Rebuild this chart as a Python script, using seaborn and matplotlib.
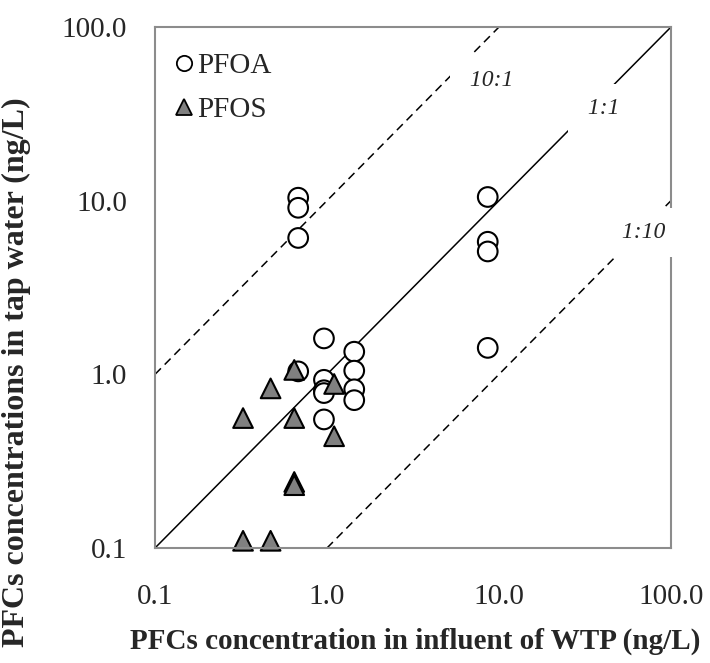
import numpy as np
import pandas as pd
import matplotlib
matplotlib.use("Agg")
import matplotlib.pyplot as plt
from matplotlib.ticker import FixedLocator, FixedFormatter, LogLocator, NullFormatter
from matplotlib.lines import Line2D
import seaborn as sns

# PFOA: influent (x) vs tap water (y), ng/L
pfoa_influent = [0.68, 0.68, 0.68, 8.6, 8.6, 8.6, 8.6, 0.96, 1.44, 1.44, 1.44, 1.44,
                 0.96, 0.96, 0.96, 0.68, 0.96]
pfoa_tap = [10.4, 9.1, 6.1, 10.5, 5.8, 5.1, 1.42, 1.61, 1.35, 1.05, 0.82, 0.71,
            0.93, 0.81, 0.78, 1.04, 0.55]

# PFOS: influent (x) vs tap water (y), ng/L
pfos_influent = [0.645, 0.47, 1.1, 0.645, 1.1, 0.645, 0.645, 0.325, 0.325, 0.47]
pfos_tap = [1.06, 0.83, 0.88, 0.56, 0.44, 0.24, 0.23, 0.56, 0.11, 0.11]

# Reference ratio lines (tap : influent)
ratios = [10.0, 1.0, 0.1]
ratio_labels = ["10:1", "1:1", "1:10"]

tick_values = [0.1, 1.0, 10.0, 100.0]
tick_labels = ["0.1", "1.0", "10.0", "100.0"]

df = pd.concat([
    pd.DataFrame({"influent": pfoa_influent, "tap": pfoa_tap, "compound": "PFOA"}),
    pd.DataFrame({"influent": pfos_influent, "tap": pfos_tap, "compound": "PFOS"}),
], ignore_index=True)

sns.set_style("white")
plt.rcParams["font.family"] = ["Liberation Serif", "DejaVu Serif"]

fig = plt.figure(figsize=(7.1, 6.63), dpi=100)
ax = fig.add_axes([155 / 710, 1 - 548 / 663, 516 / 710, 521 / 663])

lo, hi = tick_values[0], tick_values[-1]
ax.set_xscale("log")
ax.set_yscale("log")
ax.set_xlim(lo, hi)
ax.set_ylim(lo, hi)

# ratio lines clipped to the plotting range
for r in ratios:
    x0 = max(lo, lo / r)
    x1 = min(hi, hi / r)
    xs = np.array([x0, x1])
    if r == 1.0:
        ax.plot(xs, xs * r, color="black", lw=1.1, zorder=2)
    else:
        ax.plot(xs, xs * r, color="black", lw=1.1, dashes=(5.5, 3.5), zorder=2)

sns.scatterplot(
    data=df, x="influent", y="tap", hue="compound", style="compound",
    markers={"PFOA": "o", "PFOS": "^"},
    palette={"PFOA": "white", "PFOS": "#808080"},
    edgecolor="black", linewidth=1.5, s=200, ax=ax, legend=False, zorder=3,
    clip_on=False,
)

# ratio labels with white boxes covering the lines
label_pos = [(0.653, 0.898), (0.869, 0.844), (0.946, 0.605)]
for (px, py), txt in zip(label_pos, ratio_labels):
    ax.text(px, py, " " + txt + " ", transform=ax.transAxes, ha="center", va="center",
            fontsize=17, style="italic", zorder=5, clip_on=False,
            bbox=dict(boxstyle="square,pad=0.6", facecolor="white", edgecolor="none"))

# axes styling
spine_color = "#8c8c8c"
for sp in ax.spines.values():
    sp.set_color(spine_color)
    sp.set_linewidth(1.5)
    sp.set_zorder(4)

for axis in (ax.xaxis, ax.yaxis):
    axis.set_major_locator(FixedLocator(tick_values))
    axis.set_major_formatter(FixedFormatter(tick_labels))
    axis.set_minor_locator(LogLocator(base=10, subs=np.arange(2, 10)))
    axis.set_minor_formatter(NullFormatter())

ax.tick_params(axis="x", which="major", direction="inout", length=14, width=1.5,
               color=spine_color, labelsize=21, pad=19)
ax.tick_params(axis="y", which="major", direction="out", length=9, width=1.5,
               color=spine_color, labelsize=21, pad=11)
ax.tick_params(which="minor", direction="in", length=6, width=1.2, color=spine_color)

ax.set_xlabel("PFCs concentration in influent of WTP (ng/L)", fontsize=21,
              fontweight="bold")
ax.set_ylabel("PFCs concentrations in tap water (ng/L)", fontsize=23,
              fontweight="bold")
ax.xaxis.set_label_coords(0.504, -0.152)
ax.yaxis.set_label_coords(-0.240, 0.338)

handles = [
    Line2D([], [], linestyle="none", marker="o", markersize=11, markerfacecolor="white",
           markeredgecolor="black", markeredgewidth=1.3),
    Line2D([], [], linestyle="none", marker="^", markersize=12, markerfacecolor="#808080",
           markeredgecolor="black", markeredgewidth=1.3),
]
ax.legend(handles, ["PFOA", "PFOS"], loc="upper left", frameon=False, fontsize=21,
          handlelength=0.6, handletextpad=0.15, labelspacing=0.62,
          borderaxespad=0.2, bbox_to_anchor=(0.005, 0.985))

fig.savefig("out.png", dpi=100)
